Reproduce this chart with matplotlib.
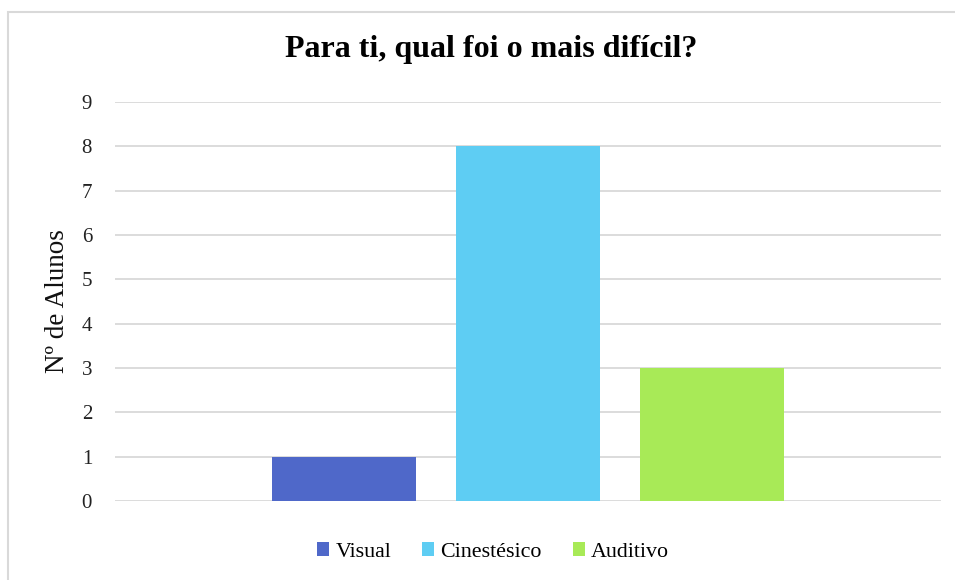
import matplotlib
matplotlib.use("Agg")
import matplotlib.pyplot as plt
from matplotlib.patches import Rectangle, Patch

series = ["Visual", "Cinestésico", "Auditivo"]
values = [1, 8, 3]
colors = ["#4F68C9", "#5ECDF3", "#A8EA57"]
yticks = list(range(0, 10))

W, H = 955, 580
fig = plt.figure(figsize=(W / 100, H / 100), dpi=100)
plt.rcParams['font.family'] = ['Liberation Serif', 'DejaVu Serif']

# outer frame
fig.patches.append(Rectangle((8 / W, -0.1), 1.2, (H - 12) / H + 0.1,
                             transform=fig.transFigure, fill=False,
                             edgecolor="#D9D9D9", linewidth=1.5))

ax = fig.add_axes([115 / W, (H - 501) / H, (941 - 115) / W, (501 - 102) / H])
bw = 144 / 826
gap = 40 / 826
for i, (s, v, c) in enumerate(zip(series, values, colors)):
    ax.bar((i - 1) * (bw + gap), v, width=bw, color=c, label=s, zorder=3)

ax.set_xlim(-0.5, 0.5)
ax.set_ylim(0, 9)
ax.set_yticks(yticks)
ax.set_yticklabels([str(t) for t in yticks], fontsize=15)
ax.set_xticks([])
ax.yaxis.grid(True, color="#D9D9D9", linewidth=1.3, zorder=0)
for sp in ax.spines.values():
    sp.set_visible(False)
ax.tick_params(axis="y", length=0, pad=16.5, colors="#222222")
ax.set_ylabel("Nº de Alunos", fontsize=19.5, labelpad=8, color="#111111")

fig.text(491 / W, 1 - 50 / H, "Para ti, qual foi o mais difícil?",
         ha="center", va="center", fontsize=23, fontweight="bold")

handles = [Patch(facecolor=c, label=s) for s, c in zip(series, colors)]
fig.legend(handles=handles, loc="center", bbox_to_anchor=(493 / W, 1 - 552 / H),
           ncol=3, frameon=False, fontsize=15.8, handlelength=0.55, handleheight=0.55,
           handletextpad=0.3, columnspacing=1.4)

fig.savefig("out.png", dpi=100)
